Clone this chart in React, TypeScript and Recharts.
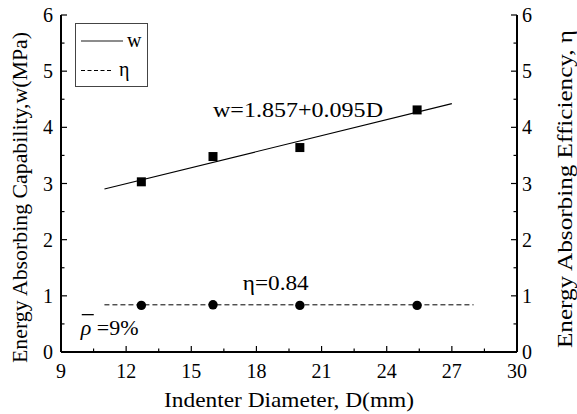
import React from 'react';
import {
  ComposedChart, XAxis, YAxis, Line, Scatter, Legend, ReferenceDot,
} from 'recharts';

// ---- data ----
const diameters = [12.7, 16, 20, 25.4];
const capability = [3.03, 3.48, 3.64, 4.31];
const efficiency = [0.83, 0.84, 0.83, 0.83];
const fitX = [11, 27];
const fitW = [2.902, 4.422];
const etaLineX = [11, 28];
const etaLineY = [0.84, 0.84];
const xTicks = [9, 10.5, 12, 13.5, 15, 16.5, 18, 19.5, 21, 22.5, 24, 25.5, 27, 28.5, 30];
const xMajor = [9, 12, 15, 18, 21, 24, 27, 30];
const yTicks = [0, 0.5, 1, 1.5, 2, 2.5, 3, 3.5, 4, 4.5, 5, 5.5, 6];
const yMajor = [0, 1, 2, 3, 4, 5, 6];

const capData = diameters.map((x, i) => ({ x, y: capability[i] }));
const effData = diameters.map((x, i) => ({ x, y: efficiency[i] }));
const fitData = fitX.map((x, i) => ({ x, y: fitW[i] }));
const etaData = etaLineX.map((x, i) => ({ x, y: etaLineY[i] }));

const FONT = 'Liberation Serif';
const TICK_FS = 20;
const TITLE_FS = 21;
const MAJ = 6;
const MIN = 3.5;
const BM = 12; // bottom tick margin
const LM = 8;
const RM = 5;
const TM = 0;

const ts = (size: number) => ({ fontFamily: FONT, fontSize: size });

const BottomTick = (p: any) => {
  const { x, y, payload } = p;
  const major = xMajor.includes(payload.value);
  const ay = y - BM;
  return (
    <g>
      <line x1={x} x2={x} y1={ay} y2={ay - (major ? MAJ : MIN)} stroke="#000" strokeWidth={1.2} />
      {major && (
        <text x={x} y={y} dy="0.71em" textAnchor="middle" style={ts(TICK_FS)} fill="#000">
          {payload.value}
        </text>
      )}
    </g>
  );
};

const TopTick = (p: any) => {
  const { x, y } = p;
  const payload = p.payload;
  const major = xMajor.includes(payload.value);
  const ay = y + TM;
  return <line x1={x} x2={x} y1={ay} y2={ay + (major ? MAJ : MIN)} stroke="#000" strokeWidth={1.2} />;
};

const LeftTick = (p: any) => {
  const { x, y, payload } = p;
  const major = yMajor.includes(payload.value);
  const ax = x + LM;
  return (
    <g>
      <line x1={ax} x2={ax + (major ? MAJ : MIN)} y1={y} y2={y} stroke="#000" strokeWidth={1.2} />
      {major && (
        <text x={x} y={y} dy="0.355em" textAnchor="end" style={ts(TICK_FS)} fill="#000">
          {payload.value}
        </text>
      )}
    </g>
  );
};

const RightTick = (p: any) => {
  const { x, y, payload } = p;
  const major = yMajor.includes(payload.value);
  const ax = x - RM;
  return (
    <g>
      <line x1={ax} x2={ax - (major ? MAJ : MIN)} y1={y} y2={y} stroke="#000" strokeWidth={1.2} />
      {major && (
        <text x={x} y={y} dy="0.355em" textAnchor="start" style={ts(TICK_FS)} fill="#000">
          {payload.value}
        </text>
      )}
    </g>
  );
};

const Square = (p: any) => (
  <rect x={p.cx - 4.5} y={p.cy - 4.5} width={9} height={9} fill="#000" />
);
const Dot = (p: any) => <circle cx={p.cx} cy={p.cy} r={4.7} fill="#000" />;

const LegendBox = () => (
  <svg width={74} height={64} style={{ display: 'block' }}>
    <rect x={0.5} y={0.5} width={72} height={63} fill="#fff" stroke="#444" strokeWidth={1} />
    <line x1={6} x2={48} y1={18} y2={18} stroke="#666" strokeWidth={1.5} />
    <text x={52} y={24} style={ts(20)} fill="#000">w</text>
    <line x1={6} x2={37} y1={47.5} y2={47.5} stroke="#000" strokeWidth={1} strokeDasharray="4 2.5" />
    <text x={44} y={53} style={ts(20)} fill="#000">η</text>
  </svg>
);

const annText = (txt: string, len: number) => (props: any) => {
  const vb = props.viewBox || {};
  return (
    <text x={vb.x} y={vb.y} textAnchor="start" style={ts(21)} fill="#000" textLength={len} lengthAdjust="spacingAndGlyphs">
      {txt}
    </text>
  );
};

const rhoText = (props: any) => {
  const vb = props.viewBox || {};
  return (
    <g>
      <line x1={vb.x + 1} x2={vb.x + 13} y1={vb.y - 20.5} y2={vb.y - 20.5} stroke="#000" strokeWidth={1.3} />
      <text x={vb.x} y={vb.y} textAnchor="start" style={ts(22)} fill="#000">
        <tspan fontStyle="italic">ρ</tspan>
        <tspan> =9%</tspan>
      </text>
    </g>
  );
};

const XTitle = (props: any) => {
  const vb = props.viewBox || {};
  return (
    <text x={vb.x + vb.width / 2} y={407} textAnchor="middle" style={ts(TITLE_FS)} fill="#000" textLength={250} lengthAdjust="spacingAndGlyphs">
      Indenter Diameter, D(mm)
    </text>
  );
};

const LeftTitle = () => (
  <text x={27} y={197.5} transform="rotate(-90 27 197.5)" textAnchor="middle" style={ts(TITLE_FS)} fill="#000" textLength={331} lengthAdjust="spacingAndGlyphs">
    Energy Absorbing Capability,w(MPa)
  </text>
);

const RightTitle = () => (
  <text x={572} y={189} transform="rotate(-90 572 189)" textAnchor="middle" style={ts(TITLE_FS)} fill="#000" textLength={318} lengthAdjust="spacingAndGlyphs">
    Energy Absorbing Efficiency, η
  </text>
);

export default function App() {
  return (
    <div style={{ position: 'absolute', left: 0, top: 0, width: 577, height: 414, background: '#fff' }}>
      <ComposedChart width={577} height={414} margin={{ top: 15, right: 0, bottom: 0, left: 0 }}>
        <XAxis
          xAxisId="bottom"
          dataKey="x"
          type="number"
          domain={[9, 30]}
          ticks={xTicks}
          interval={0}
          allowDataOverflow
          height={62}
          tickSize={0}
          tickMargin={BM}
          tick={BottomTick}
          axisLine={{ stroke: '#000', strokeWidth: 2 }}
          tickLine={false}
          label={XTitle}
        />
        <XAxis
          xAxisId="top"
          orientation="top"
          dataKey="x"
          type="number"
          domain={[9, 30]}
          ticks={xTicks}
          interval={0}
          allowDataOverflow
          height={0}
          tickSize={0}
          tickMargin={TM}
          tick={TopTick}
          axisLine={{ stroke: '#000', strokeWidth: 1.5 }}
          tickLine={false}
        />
        <YAxis
          yAxisId="left"
          dataKey="y"
          type="number"
          domain={[0, 6]}
          ticks={yTicks}
          interval={0}
          allowDataOverflow
          width={61}
          tickSize={0}
          tickMargin={LM}
          tick={LeftTick}
          axisLine={{ stroke: '#000', strokeWidth: 2 }}
          tickLine={false}
          label={LeftTitle}
        />
        <YAxis
          yAxisId="right"
          orientation="right"
          dataKey="y"
          type="number"
          domain={[0, 6]}
          ticks={yTicks}
          interval={0}
          allowDataOverflow
          width={60}
          tickSize={0}
          tickMargin={RM}
          tick={RightTick}
          axisLine={{ stroke: '#000', strokeWidth: 2 }}
          tickLine={false}
          label={RightTitle}
        />
        <Line
          xAxisId="bottom"
          yAxisId="left"
          data={fitData}
          dataKey="y"
          stroke="#000"
          strokeWidth={1.2}
          dot={false}
          isAnimationActive={false}
          legendType="none"
        />
        <Line
          xAxisId="bottom"
          yAxisId="right"
          data={etaData}
          dataKey="y"
          stroke="#000"
          strokeWidth={1}
          strokeDasharray="5 3"
          dot={false}
          isAnimationActive={false}
          legendType="none"
        />
        <Line
          xAxisId="top"
          yAxisId="left"
          data={etaData}
          dataKey="y"
          stroke="none"
          dot={false}
          isAnimationActive={false}
          legendType="none"
        />
        <Scatter xAxisId="bottom" yAxisId="left" data={capData} dataKey="y" shape={Square} isAnimationActive={false} />
        <Scatter xAxisId="bottom" yAxisId="right" data={effData} dataKey="y" shape={Dot} isAnimationActive={false} />
        <ReferenceDot xAxisId="bottom" yAxisId="left" x={16.0} y={4.18} r={0} fill="none" stroke="none" label={annText('w=1.857+0.095D', 170)} />
        <ReferenceDot xAxisId="bottom" yAxisId="left" x={17.37} y={1.1} r={0} fill="none" stroke="none" label={annText('η=0.84', 66)} />
        <ReferenceDot xAxisId="bottom" yAxisId="left" x={9.91} y={0.3} r={0} fill="none" stroke="none" label={rhoText} />
        <Legend
          layout="horizontal"
          verticalAlign="middle"
          align="center"
          content={LegendBox}
          wrapperStyle={{ position: 'absolute', left: 75, top: 23, width: 74, height: 64 }}
        />
      </ComposedChart>
    </div>
  );
}
